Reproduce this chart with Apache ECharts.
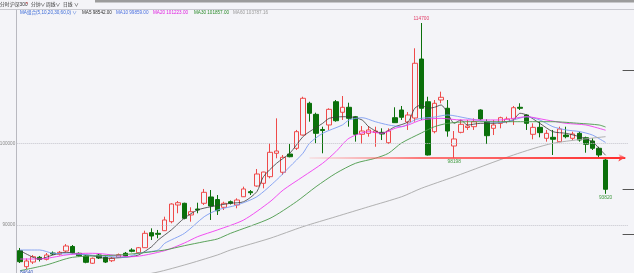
<!DOCTYPE html>
<html><head><meta charset="utf-8">
<script src="https://cdn.jsdelivr.net/npm/echarts@6/dist/echarts.min.js"></script>
<style>html,body{margin:0;padding:0;background:#f4f4f8;}#c{width:634px;height:273px;}</style>
</head><body><div id="c"></div>
<script>
// ---------- data ----------
const categoryCount = 93;
const categories = Array.from({length: categoryCount}, (_, i) => 'K' + (i + 1));
// [open, close, low, high]
const candles = [
[86880,85530,85370,87210],[84920,85620,84640,85920],[85490,86140,85250,86350],[86070,85800,85560,86230],
[85820,86350,85680,86590],[86590,86470,86350,86780],[86440,86680,86290,86840],[86840,87450,86680,87690],
[87390,86630,86530,87570],[86560,86260,86170,86660],[86230,85460,85340,86350],[85340,85950,85250,86040],
[86350,85980,85860,86470],[86070,85490,85370,86230],[85650,85950,85490,86110],[86070,86390,85980,86530],
[86560,86230,86110,86720],[86960,86800,86680,87170],[86630,87240,86530,87330],[87240,89000,87210,89320],
[89080,88670,88180,89610],[89000,88880,88390,89410],[89320,90630,89280,91030],[90420,92580,90220,92670],
[92460,92740,91450,92950],[92670,90830,90710,92740],[91240,91640,90420,92180],[91970,91850,91450,92740],
[92670,94010,92460,94420],[93440,92340,90630,94290],[93130,91760,91240,93680],[92180,92670,91850,92860],
[92860,92670,92520,93010],[92460,93070,92060,93280],[93470,94420,93440,94700],[94090,93960,93680,94290],
[94780,96250,94700,96860],[95110,96490,94500,96520],[95920,98900,95720,100000],[98780,99060,98170,103050],
[96460,98290,96130,98570],[98690,98360,98290,99910],[99390,101420,99180,101630],[101010,105500,100950,105690],
[104890,103670,102640,105080],[103540,101220,100000,103740],[101690,101560,98780,102030],[102240,104150,101630,104280],
[105080,102760,102640,105290],[103790,104400,102850,105780],[104400,103050,102030,104960],[103250,101100,100200,103340],
[101100,101500,99910,102110],[101220,101630,100810,102110],[101320,101500,99580,102030],[101340,101140,100400,101830],
[100070,101500,99910,101830],[103130,102520,102480,104400],[104070,103180,102850,104560],[102600,103460,101630,103820],
[103090,109780,102640,111610],[110300,104280,102850,114700],[105080,98570,98510,105690],[101420,104890,101220,105290],
[105290,105620,104890,106310],[104280,101500,100810,105290],[99670,100530,98198,101500],[101340,102320,101220,102850],
[101930,102110,101630,102850],[102030,102640,101630,103050],[104070,102970,102850,104150],[102640,100930,99910,102930],
[101830,102240,101010,102850],[102440,103130,101830,103250],[102660,102970,102440,103250],[102970,104350,102240,104560],
[104400,104280,104070,104890],[103460,102440,101630,103540],[101100,101950,100490,102440],[101950,101300,100730,102640],
[100610,101220,100200,101630],[100730,100490,98570,101630],[100200,101750,100160,102030],[101010,100810,100610,102030],
[100610,101140,100400,101420],[101220,100400,100200,101420],[100680,99880,98850,100810],[100280,99390,99180,100610],
[99390,98570,98170,99580],[97960,94380,93820,98170]
];
// moving averages: [index, value]
const ma5 = [[0,86880],[2,86070],[3,85860],[5,86350],[7,86680],[9,86470],[11,86260],[13,85950],[16,86070],[18,86350],
[20,87360],[21,88180],[23,89410],[25,90870],[27,91850],[29,92250],[32,92670],[34,92860],[36,94090],[37,95920],[39,97560],
[41,98780],[43,100810],[44,101420],[46,102440],[47,103050],[49,103250],[50,103250],[52,102850],[53,102030],[55,101220],
[57,102030],[59,102640],[60,104280],[61,104680],[62,104280],[63,104400],[64,104680],[65,103670],[66,102440],[67,102850],
[68,102240],[70,102440],[72,102440],[74,102640],[75,102850],[76,103670],[77,103460],[79,102440],[81,101420],[83,101220],
[85,100810],[87,100200],[88,99390],[89,98542]];
const ma10 = [[0,86960],[3,86960],[5,86560],[9,86440],[16,86070],[18,86560],[21,86960],[22,87780],[25,89000],[28,91030],
[30,91850],[33,92460],[36,93470],[39,95520],[41,97140],[43,98780],[44,100000],[46,101220],[49,102240],[50,102850],[52,103130],
[54,102640],[56,102240],[58,102030],[60,102850],[61,103050],[63,103210],[65,103460],[68,103050],[71,102640],[73,102540],
[75,102850],[77,103250],[79,102850],[81,102030],[83,101630],[85,101440],[87,101010],[89,100100]];
const ma20 = [[0,85860],[3,85860],[7,86350],[10,86560],[12,86530],[17,86140],[22,86880],[25,87820],[27,88590],[30,89410],
[34,90630],[38,92860],[40,94290],[43,95920],[46,97560],[48,98970],[50,100610],[53,101420],[55,101220],[57,101830],[59,102240],
[61,102850],[64,103050],[67,102850],[70,102850],[73,102850],[75,103050],[77,103250],[80,102850],[83,102440],[86,102240],[89,101600]];
const ma30 = [[0,84430],[4,85130],[8,86070],[15,86350],[18,86560],[22,86960],[25,87490],[28,87980],[30,88310],[32,89000],
[38,90830],[42,92860],[45,94700],[48,96330],[51,97560],[54,98170],[56,98780],[58,100040],[61,101260],[63,102030],[65,102440],
[68,102640],[73,102640],[77,102640],[81,102640],[85,102440],[88,102240],[89,101990]];
const ma60 = [[13,83540],[20,84110],[25,85130],[30,86350],[32,86960],[38,88390],[43,89810],[48,91030],[53,92250],[58,93470],
[61,94500],[66,95920],[75,98570],[81,100000],[89,100810]];
const gridValues = [90000, 100000];
const highMark = {index: 61, value: 114700, text: '114700'};
const lowMarks = [{index: 66, value: 98198, text: '98198'}, {index: 89, value: 93820, text: '93820'}];
const cornerMark = {index: 1, value: 84640, text: '84640'};
const supportLevel = {from: 44, to: 92, value: 98250};
const rightTicks = [108960, 94420, 88920];
const legendTitle = 'MA组合(5,10,20,30,60,0) \u2228';
const legendNames = ['MA5', 'MA10', 'MA20', 'MA30', 'MA60'];
const legendValues = ['98542.00', '99859.00', '101223.00', '101857.00', '103787.16'];
const toolbarTexts = ['分时', '沪深300', '*', '分钟\u2228', '周线\u2228', '日线 \u2228'];

// ---------- styles ----------
const FONT = 'Liberation Sans, Noto Sans CJK SC, sans-serif';
const BG = '#f4f4f8';
const UP = '#ef4a4a', DOWN = '#0b700b';
const maColors = ['#3a3a3a', '#7d9cf2', '#f03cf0', '#4a9a4a', '#a8a8a8'];
const legendColors = ['#333333', '#4a6fe0', '#e020e0', '#2a8a2a', '#9a9a9a'];
const legendX = [82, 116, 153, 194, 233];
const toolbarX = [0, 10, 26, 31, 46, 63];
const toolbarColors = ['#333', '#333', '#e03030', '#333', '#333', '#333'];
const YMIN = 84150, YMAX = 116290;

const chart = echarts.init(document.getElementById('c'), null, {renderer: 'canvas'});

const graphics = [
  {type: 'rect', shape: {x: 95, y: 0, width: 539, height: 2.5}, style: {fill: '#9c9c9c'}, silent: true},
  {type: 'line', shape: {x1: 0, y1: 9.5, x2: 634, y2: 9.5}, style: {stroke: '#c9c9cf', lineWidth: 1}, silent: true},
  {type: 'text', style: {x: 20, y: 12.5, text: legendTitle, fill: '#3a6ad8', fontSize: 4.6, fontFamily: FONT, verticalAlign: 'middle'}}
];
toolbarTexts.forEach((t, i) => graphics.push({type: 'text', style: {x: toolbarX[i], y: 5, text: t, fill: toolbarColors[i], fontSize: 4.8, fontFamily: FONT, verticalAlign: 'middle'}}));
legendNames.forEach((n, i) => graphics.push({type: 'text', style: {x: legendX[i], y: 12.5, text: n + ' ' + legendValues[i], fill: legendColors[i], fontSize: 4.6, fontFamily: FONT, verticalAlign: 'middle'}}));

const maData = [ma5, ma10, ma20, ma30, ma60];
const maSeries = maData.map((d, i) => ({
  type: 'line', name: legendNames[i], data: d, smooth: 0.25, symbol: 'none', silent: true,
  lineStyle: {color: maColors[i], width: i === 0 ? 0.8 : 0.9}, z: 3
}));

const option = {
  backgroundColor: BG,
  animation: false,
  graphic: graphics,
  grid: {left: 16.7, right: 5.4, top: 10, bottom: 0},
  xAxis: {type: 'category', data: categories, boundaryGap: true,
    axisLine: {show: false}, axisTick: {show: false}, axisLabel: {show: false}, splitLine: {show: false}},
  yAxis: [
    {type: 'value', min: YMIN, max: YMAX, axisLine: {show: true, lineStyle: {color: '#b9b9c0', width: 1}},
     axisTick: {show: false}, axisLabel: {show: false}, splitLine: {show: false}},
    {type: 'value', position: 'right', offset: -6, min: YMIN, max: YMAX, axisLine: {show: false},
     axisTick: {show: true, inside: false, length: 12, customValues: rightTicks, lineStyle: {color: '#555', width: 1}},
     axisLabel: {show: false}, splitLine: {show: false}}
  ],
  series: [
    {type: 'line', data: [], silent: true,
     markLine: {silent: true, symbol: ['none', 'none'],
       lineStyle: {type: 'dotted', color: '#c4c4cc', width: 1},
       label: {position: 'start', distance: 1.5, color: '#8a8a8a', fontSize: 4.6, fontFamily: FONT, formatter: p => String(p.value)},
       data: gridValues.map(v => ({yAxis: v}))}},
    {type: 'candlestick', data: candles, barWidth: 5, z: 2,
     itemStyle: {color: 'rgba(0,0,0,0)', color0: DOWN, borderColor: UP, borderColor0: DOWN, borderWidth: 1},
     markPoint: {symbol: 'circle', symbolSize: 0, silent: true,
       label: {fontSize: 4.8, fontFamily: FONT, distance: 1.5},
       data: [
         {coord: [categories[highMark.index], highMark.value], label: {position: 'top', color: '#e2406a', formatter: highMark.text}},
         ...lowMarks.map(m => ({coord: [categories[m.index], m.value], label: {position: 'bottom', color: '#3f9a3f', formatter: m.text}})),
         {coord: [categories[cornerMark.index], cornerMark.value], label: {position: 'bottom', color: '#3f5fc0', formatter: cornerMark.text}}
       ]},
     markLine: {silent: true, symbol: ['none', 'arrow'], symbolSize: [6, 7],
       label: {show: false},
       data: [[
         {coord: [categories[supportLevel.from], supportLevel.value]},
         {coord: [categories[supportLevel.to], supportLevel.value]}
       ]],
       lineStyle: {type: 'solid', width: 2,
         color: {type: 'linear', x: 0, y: 0, x2: 1, y2: 0, colorStops: [
           {offset: 0, color: 'rgba(255,120,120,0.12)'}, {offset: 0.35, color: 'rgba(255,80,80,0.75)'}, {offset: 1, color: '#ff2a2a'}]}}}
    },
    ...maSeries
  ]
};
chart.setOption(option);
</script></body></html>
